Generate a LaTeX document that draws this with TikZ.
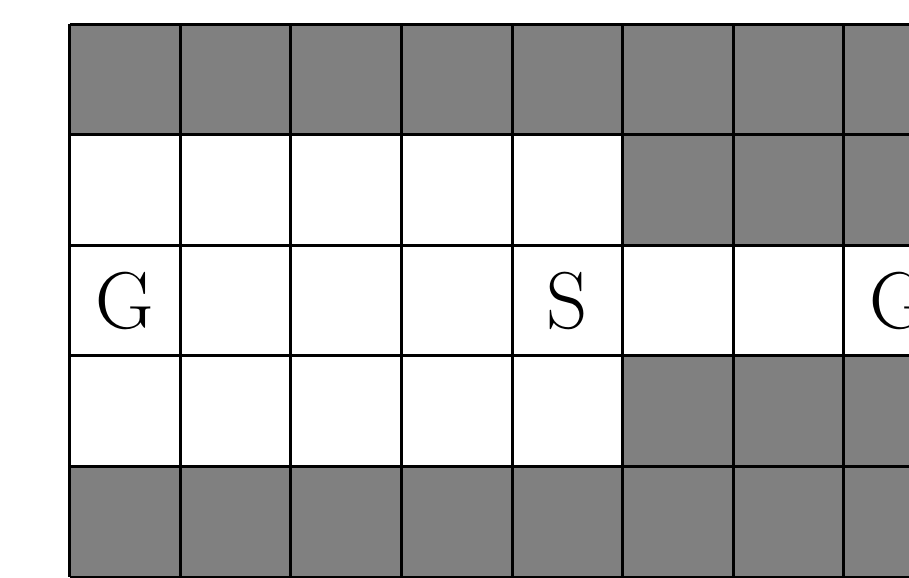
\documentclass[tikz,border=0pt]{standalone}
\begin{document}
\begin{tikzpicture}[
  wall/.style={fill=gray},
  gridline/.style={line width=0.75pt, black},
  lbl/.style={font=\huge, inner sep=0pt}
]
\useasboundingbox (-0.631,-0.009) rectangle (7.590,5.218);
\clip (-0.631,-0.009) rectangle (7.590,5.218);
% walls
\fill[wall] (0,4) rectangle (9,5);
\fill[wall] (0,0) rectangle (9,1);
\fill[wall] (5,3) rectangle (9,4);
\fill[wall] (5,1) rectangle (9,2);
% grid
\draw[gridline] (0,0) grid (9,5);
% labels
\node[lbl] (g1) at (0.5,2.5) {G};
\node[lbl] (s) at (4.5,2.5) {S};
\node[lbl] (g2) at (7.5,2.5) {G};
\end{tikzpicture}
\end{document}
